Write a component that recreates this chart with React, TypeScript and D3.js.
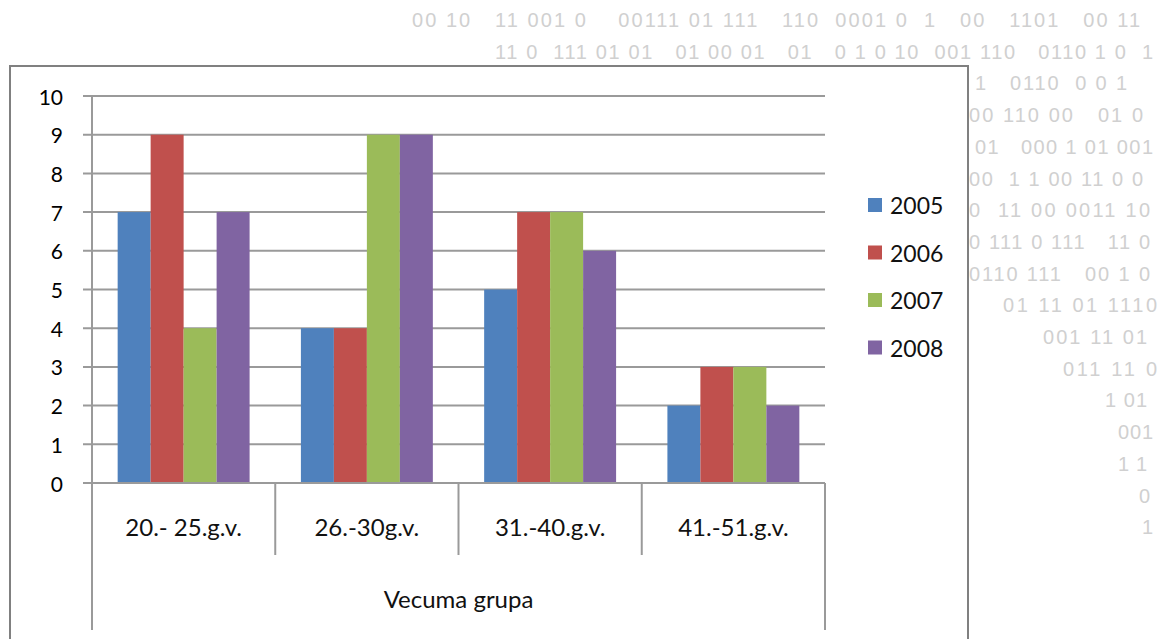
import React from "react";
import * as d3 from "d3";

const categories = ["20.- 25.g.v.", "26.-30g.v.", "31.-40.g.v.", "41.-51.g.v."];
const seriesNames = ["2005", "2006", "2007", "2008"];
const seriesColors = ["#4F81BD", "#C0504D", "#9BBB59", "#8064A2"];
const values2005 = [7, 4, 5, 2];
const values2006 = [9, 4, 7, 3];
const values2007 = [4, 9, 7, 3];
const values2008 = [7, 9, 6, 2];
const yTicks = [0, 1, 2, 3, 4, 5, 6, 7, 8, 9, 10];
const axisTitle = "Vecuma grupa";

// faint binary digits behind the chart (only the visible parts)
const binaryRows = [
  "00 10   11 001 0    00111 01 111   110  0001 0  1   00   1101   00 11",
  "11 0  111 01 01   01 00 01   01   0 1 0 10  001 110   0110 1 0  1",
  "1   0110  0 0 1",
  "00 110 00   01 0",
  "01   000 1 01 001",
  "00  1 1 00 11 0 0",
  "0  11 00 0011 10",
  "0 111 0 111   11 0",
  "0110 111   00 1 0",
  "01 11 01 1110",
  "001 11 01",
  "011 11 0",
  "1 01",
  "001",
  "1 1",
  "0",
  "1",
];
const binaryLeft = [412, 495, 975, 969, 975, 969, 969, 969, 969, 1003, 1043, 1063, 1105, 1118, 1118, null, null];
const binaryRight = [1140, 1153, 1127, 1143, 1153, 1143, 1150, 1150, 1150, 1157, 1147, 1157, 1147, 1153, 1147, 1150, 1153];

const series = [values2005, values2006, values2007, values2008];
const font = "Lato, 'Open Sans', sans-serif";
const digitFont = "'Liberation Sans', Arial, sans-serif";

export default function App() {
  const W = 1170;
  const H = 639;
  const left = 92;
  const right = 825;
  const top = 96;
  const bottom = 483;

  const x0 = d3.scaleBand<string>().domain(categories).range([left, right]).padding(0);
  const step = x0.bandwidth();
  const groupW = step * 0.72;
  const x1 = d3
    .scaleBand<string>()
    .domain(seriesNames)
    .range([(step - groupW) / 2, (step + groupW) / 2]);
  const y = d3.scaleLinear().domain([0, 10]).range([bottom, top]);

  return (
    <svg width={W} height={H} style={{ position: "absolute", left: 0, top: 0, background: "#fff" }}>
      {binaryRows.map((row, i) => {
        const l = binaryLeft[i];
        const r = binaryRight[i];
        const txt = row.replace(/ /g, "\u00a0");
        return l !== null ? (
          <text
            key={i}
            x={l}
            y={20 + i * 31.7}
            dominantBaseline="central"
            textLength={r - l}
            lengthAdjust="spacing"
            fontFamily={digitFont}
            fontSize={20}
            fill="#d0d0d0"
          >
            {txt}
          </text>
        ) : (
          <text key={i} x={r} y={20 + i * 31.7} textAnchor="end" dominantBaseline="central" fontFamily={digitFont} fontSize={20} fill="#d0d0d0">
            {txt}
          </text>
        );
      })}

      {/* chart frame */}
      <rect x={10} y={66} width={958} height={620} fill="#fff" stroke="#808080" strokeWidth={2} />

      {/* gridlines */}
      {yTicks.map((t) => (
        <line key={t} x1={left - 9} x2={right} y1={y(t)} y2={y(t)} stroke="#9a9a9a" strokeWidth={2} />
      ))}

      {/* bars */}
      {categories.map((c, ci) => (
        <g key={c} transform={`translate(${x0(c)},0)`}>
          {seriesNames.map((s, si) => (
            <rect
              key={s}
              x={x1(s)}
              y={y(series[si][ci])}
              width={x1.bandwidth()}
              height={bottom - y(series[si][ci])}
              fill={seriesColors[si]}
            />
          ))}
        </g>
      ))}

      {/* value axis */}
      <line x1={left} x2={left} y1={top} y2={bottom} stroke="#9a9a9a" strokeWidth={2} />
      {yTicks.map((t) => (
        <text key={t} x={63} y={y(t)} textAnchor="end" dominantBaseline="central" fontFamily={font} fontSize={21} fill="#000">
          {t}
        </text>
      ))}

      {/* category axis */}
      <line x1={left} x2={right} y1={bottom} y2={bottom} stroke="#9a9a9a" strokeWidth={2} />
      {d3.range(categories.length + 1).map((k) => {
        const xx = left + k * step;
        const outer = k === 0 || k === categories.length;
        return <line key={k} x1={xx} x2={xx} y1={bottom} y2={outer ? 630 : 555} stroke="#9a9a9a" strokeWidth={2} />;
      })}
      {categories.map((c) => (
        <text key={c} x={(x0(c) ?? 0) + step / 2} y={526} textAnchor="middle" dominantBaseline="central" fontFamily={font} fontSize={24} fill="#111">
          {c}
        </text>
      ))}
      <text x={(left + right) / 2} y={598} textAnchor="middle" dominantBaseline="central" fontFamily={font} fontSize={24} fill="#111">
        {axisTitle}
      </text>

      {/* legend */}
      {seriesNames.map((s, i) => (
        <g key={s} transform={`translate(868,${205 + i * 47.5})`}>
          <rect x={0} y={-7} width={14} height={14} fill={seriesColors[i]} />
          <text x={22} y={0} dominantBaseline="central" fontFamily={font} fontSize={23} fill="#111">
            {s}
          </text>
        </g>
      ))}
    </svg>
  );
}
